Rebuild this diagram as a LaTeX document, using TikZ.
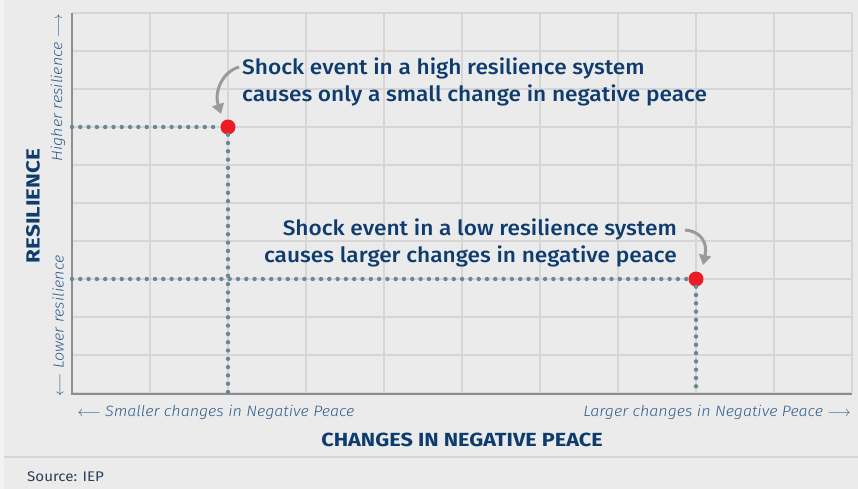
\documentclass[tikz,border=0pt]{standalone}
\usepackage{fontspec}
\setmainfont{Fira Sans}
\newfontfamily\medfont{Fira Sans Medium}[FakeStretch=1.08]
\newfontfamily\lightit{Fira Sans Light Italic}[FakeStretch=1.07]
\newfontfamily\boldwide{Fira Sans Bold}[FakeStretch=1.14]
\newfontfamily\boldwider{Fira Sans Bold}[FakeStretch=1.18]
\newfontfamily\srcfont{Fira Sans}[FakeStretch=1.08]
\usetikzlibrary{arrows.meta}
\definecolor{bggray}{HTML}{EBEBEB}
\definecolor{edgegray}{HTML}{F3F3F3}
\definecolor{gridgray}{HTML}{D6D6D6}
\definecolor{axisgray}{HTML}{8E8E8E}
\definecolor{navy}{HTML}{0E3C6E}
\definecolor{ltnavy}{HTML}{2E5D8C}
\definecolor{dotgray}{HTML}{6A8894}
\definecolor{shockred}{HTML}{EC1C24}
\definecolor{arrowgray}{HTML}{9A9A9A}
\definecolor{srcgray}{HTML}{2B3F58}
\tikzset{
  gridline/.style={draw=gridgray, line width=1.6pt},
  axisline/.style={draw=axisgray, line width=1.6pt},
  dotline/.style={draw=dotgray, line width=4.4pt, line cap=round, dash pattern=on 0pt off 8.3pt},
  shockdot/.style={circle, fill=shockred, minimum size=15pt, inner sep=0pt},
  note/.style={font=\medfont\fontsize{21}{27}\selectfont, text=navy, inner sep=0pt},
  sidelabel/.style={font=\lightit\fontsize{15}{17}\selectfont, text=ltnavy, inner sep=0pt},
  axistitle/.style={font=\boldwide\fontsize{19}{21}\selectfont, text=navy, inner sep=0pt},
  bendarrow/.style={draw=arrowgray, line width=3pt, -{Triangle[width=12pt,length=10pt]}}
}
\begin{document}
\begin{tikzpicture}[x=1pt, y=-1pt]
    \useasboundingbox (0,0) rectangle (858,489);
    \fill[bggray] (0,0) rectangle (858,489);
    \fill[edgegray] (0,0) rectangle (4,489);

    % grid
    \foreach \i in {0,...,10} {
        \draw[gridline] ({72+78*\i},13) -- ({72+78*\i},393);
        \draw[gridline] (72,{13+38*\i}) -- (852,{13+38*\i});
    }
    \draw[axisline] (72,13) -- (72,394) -- (852,394);

    % shock points
    \node[shockdot] (dotA) at (228,127) {};
    \node[shockdot] (dotB) at (696,279) {};
    \coordinate (dotAleft) at (72,127);
    \coordinate (dotAbase) at (228,393);
    \coordinate (dotBleft) at (72,279);
    \coordinate (dotBbase) at (696,393);

    % dotted guide lines
    \draw[dotline] (dotAleft) -- (dotA.west);
    \draw[dotline] (dotA.south) -- (dotAbase);
    \draw[dotline] (dotBleft) -- (dotB.west);
    \draw[dotline] (dotB.south) -- (dotBbase);

    % annotations
    \node[note, anchor=west, align=left] (noteA) at (242,81.5)
        {Shock event in a high resilience system\\causes only a small change in negative peace};
    \node[note, anchor=east, align=right] (noteB) at (677,242.5)
        {Shock event in a low resilience system\\causes larger changes in negative peace};
    \coordinate (noteAtip) at (221,114);
    \coordinate (noteBtip) at (703,265);
    \draw[bendarrow] (noteA.west |- 0,67) ++(-3,0) coordinate (noteAstart)
        .. controls (222,72) and (214,92) .. (noteAtip);
    \draw[bendarrow] (noteB.east |- 0,230) ++(8,0) coordinate (noteBstart)
        .. controls (700,231) and (708,242) .. (noteBtip);

    % axis labels
    \node[sidelabel, rotate=90] (hiLbl) at (58,88) {Higher resilience $\longrightarrow$};
    \node[sidelabel, rotate=90] (loLbl) at (58,326) {$\longleftarrow$ Lower resilience};
    \node[sidelabel] (smLbl) at (216,412) {$\longleftarrow$ Smaller changes in Negative Peace};
    \node[sidelabel] (lgLbl) at (717,412) {Larger changes in Negative Peace $\longrightarrow$};
    \node[axistitle] (xTitle) at (462,440) {CHANGES IN NEGATIVE PEACE};
    \node[axistitle, font=\boldwider\fontsize{19}{21}\selectfont, rotate=90] (yTitle) at (33,206) {RESILIENCE};

    % source
    \draw[gridgray, line width=1.6pt] (4,457) -- (858,457);
    \node[anchor=west, font=\srcfont\fontsize{14}{16}\selectfont, text=srcgray, inner sep=0pt] (srcLbl) at (27,477) {Source: IEP};
\end{tikzpicture}
\end{document}
